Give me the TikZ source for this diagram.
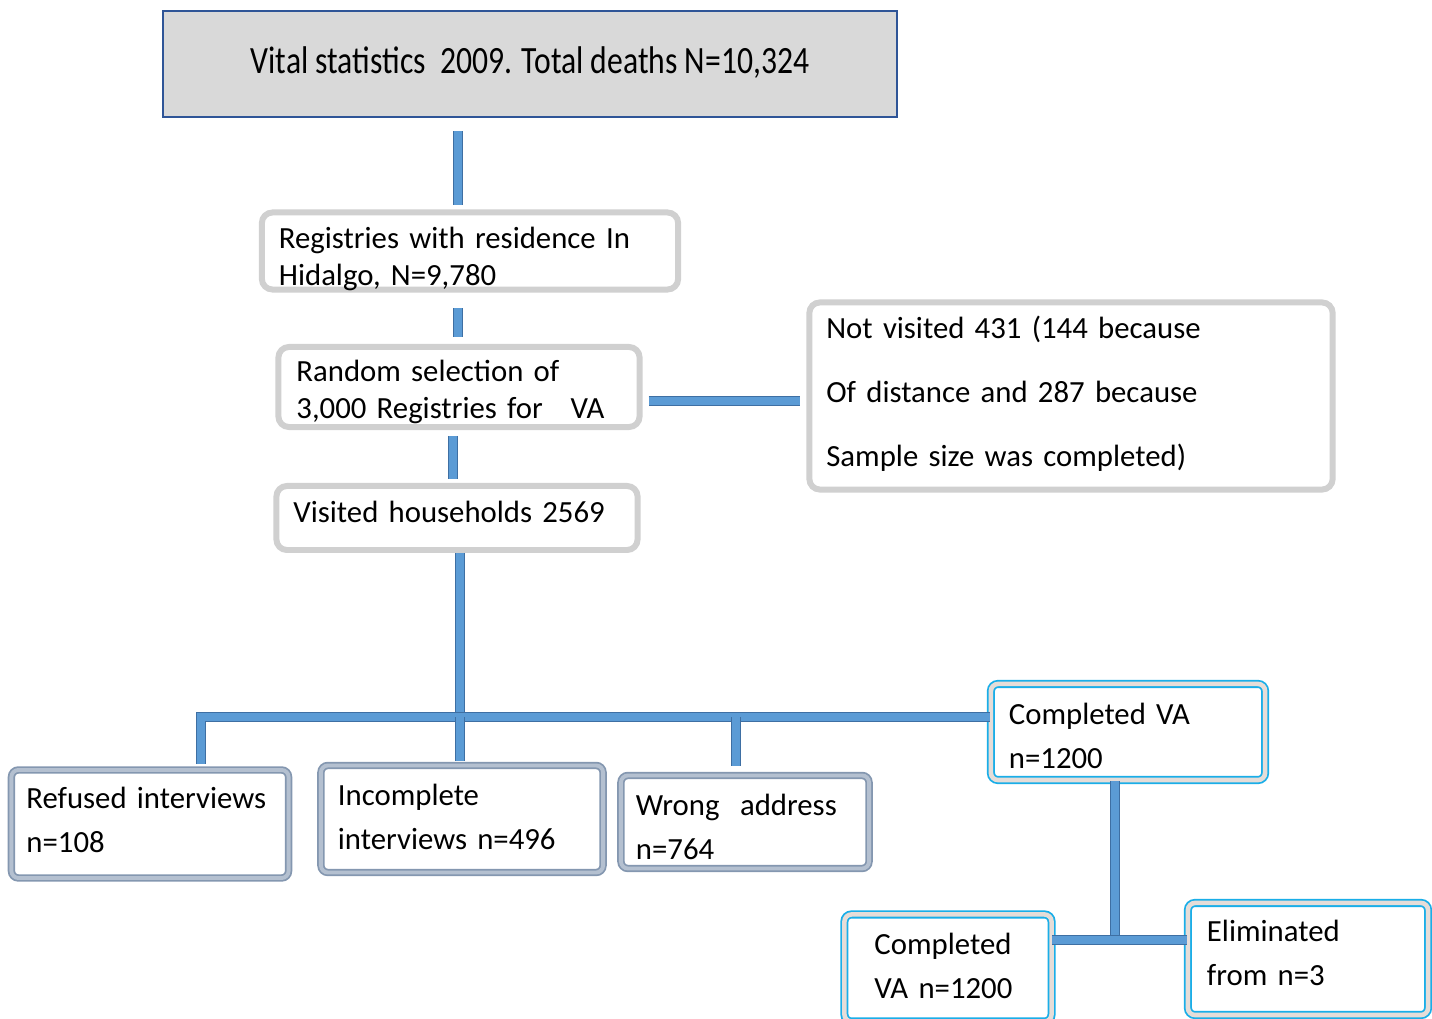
\documentclass[tikz,border=0pt]{standalone}
\usepackage{fontspec}
\setmainfont{Carlito}
\usetikzlibrary{positioning}

\definecolor{barblue}{HTML}{5B9BD5}
\definecolor{bardark}{HTML}{3E6FA3}
\definecolor{topfill}{HTML}{D9D9D9}
\definecolor{topline}{HTML}{2F5597}
\definecolor{boxgrey}{HTML}{D0D0D0}
\definecolor{slate}{HTML}{8497B0}
\definecolor{slatelight}{HTML}{B4C0D0}
\definecolor{skyline}{HTML}{1AAEE8}
\definecolor{blush}{HTML}{E6DDD8}

\tikzset{
  txt/.style={align=left, font=\fontsize{8.75}{10.3}\selectfont, inner ysep=0pt},
  % first baseline below (drop) or above (lift) the box centre
  drop/.style={text height=#1, text depth=0pt},
  lift/.style={text height=0pt, text depth=#1},
  topbox/.style={draw=topline, fill=topfill, line width=0.6pt, align=center, font=\fontsize{9}{10}\selectfont},
  greybox/.style={txt, draw=boxgrey, fill=white, line width=1.7pt, rounded corners=3pt},
  slatebox/.style={txt, draw=slate, fill=white, line width=0.5pt, double=slatelight, double distance=1.1pt, rounded corners=2pt, font=\fontsize{8.75}{12.3}\selectfont},
  skybox/.style={txt, draw=skyline, fill=white, line width=0.5pt, double=blush, double distance=1.3pt, rounded corners=2pt, font=\fontsize{8.75}{12.3}\selectfont},
  bar/.style={draw=bardark, line width=0.35pt, double=barblue, double distance=2.1pt}
}

\begin{document}
\begin{tikzpicture}[x=0.01cm, y=-0.01cm]
  \useasboundingbox (0,0) rectangle (1432,1019);

  % Boxes of the flow
  \node[topbox, drop=0.2cm, minimum width=7.34cm, minimum height=1.06cm] (vital) at (530,64)
    {\scalebox{1}[1.22]{Vital statistics\ \ 2009. Total deaths N=10,324}};
  \node[greybox, lift=0.04cm, minimum width=4.16cm, minimum height=0.77cm, inner xsep=0.17cm, text width=3.82cm] (resid) at (470,251)
    {Registries with residence In\\Hidalgo, N=9,780};
  \node[greybox, lift=0.1cm, minimum width=3.61cm, minimum height=0.80cm, inner xsep=0.18cm, text width=3.25cm] (rand) at (459,387)
    {Random\ selection of\\3,000 Registries for\hspace{0.9em}VA};
  \node[greybox, lift=1.14cm, minimum width=5.23cm, minimum height=1.87cm, inner xsep=0.17cm, text width=4.89cm,
        font=\fontsize{8.75}{18.1}\selectfont] (notvis) at (1071,396)
    {Not visited 431 (144 because\\Of distance and 287 because\\Sample size was completed)};
  \node[greybox, drop=0.1cm, minimum width=3.61cm, minimum height=0.64cm, inner xsep=0.17cm, text width=3.27cm] (visit) at (457,518)
    {Visited households 2569};

  % Outcomes of the visits
  \node[slatebox, lift=0.3cm, minimum width=2.77cm, minimum height=1.08cm, inner xsep=0.15cm, text width=2.47cm] (refused) at (150,824)
    {Refused interviews\\n=108};
  \node[slatebox, lift=0.26cm, minimum width=2.82cm, minimum height=1.07cm, inner xsep=0.17cm, text width=2.48cm] (incomp) at (462,819)
    {Incomplete\\interviews n=496};
  \node[slatebox, lift=0.12cm, minimum width=2.48cm, minimum height=0.93cm, inner xsep=0.15cm, text width=2.18cm] (wrong) at (745,822)
    {Wrong\ \ address\\n=764};
  \node[skybox, lift=0.14cm, minimum width=2.74cm, minimum height=0.96cm, inner xsep=0.18cm, text width=2.38cm] (compva) at (1128,732)
    {Completed\ VA\\n=1200};
  \node[skybox, lift=0.26cm, minimum width=2.07cm, minimum height=1.07cm, inner xsep=0.3cm, text width=1.47cm] (compb) at (948,968)
    {Completed\\VA n=1200};
  \node[skybox, lift=0.34cm, minimum width=2.40cm, minimum height=1.12cm, inner xsep=0.19cm, text width=2.02cm] (elim) at (1308,959)
    {Eliminated\\from\ n=3};

  % Connectors
  \coordinate (s1) at (458,0);
  \coordinate (s3) at (453,0);
  \coordinate (h1) at (0,401);
  \coordinate (j) at (460,717);
  \coordinate (jl) at (201,717);
  \coordinate (jw) at (736,717);
  \coordinate (k) at (1115,940);

  \draw[bar, shorten <=3.7pt, shorten >=1.4pt] (vital.south -| s1) -- (resid.north -| s1);
  \draw[bar, shorten <=4.5pt, shorten >=2pt] (resid.south -| s1) -- (rand.north -| s1);
  \draw[bar, shorten <=1.7pt, shorten >=1.1pt] (rand.south -| s3) -- (visit.north -| s3);
  \draw[bar, shorten <=1.7pt, shorten >=1.7pt] (rand.east |- h1) -- (notvis.west |- h1);

  \draw[bar] (visit.south -| j) -- (j);
  \draw[bar, shorten <=1.4pt] (refused.north -| jl) |- (compva.west |- j);
  \draw[bar, shorten >=1.1pt] (j) -- (incomp.north -| j);
  \draw[bar, shorten >=2.5pt] (jw) -- (wrong.north -| jw);

  \draw[bar] (compva.south -| k) -- (k);
  \draw[bar] (compb.east |- k) -- (elim.west |- k);

\end{tikzpicture}
\end{document}
